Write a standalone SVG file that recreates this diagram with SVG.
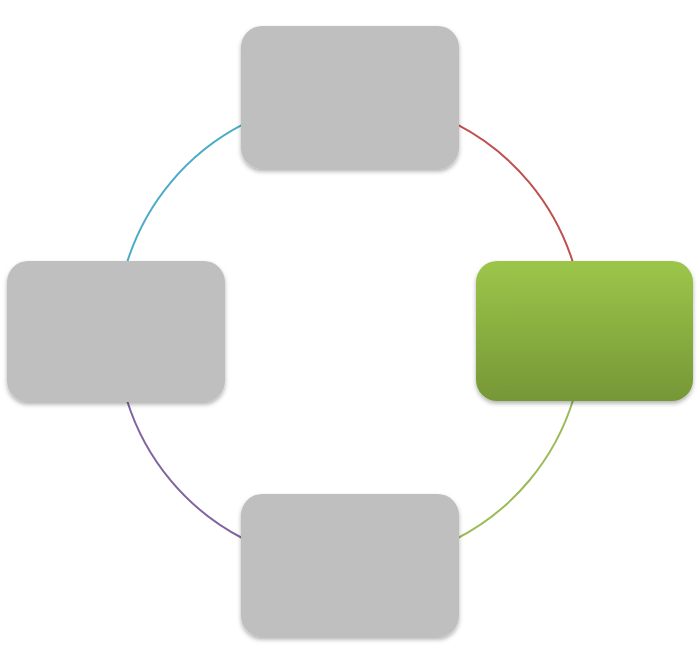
<svg xmlns="http://www.w3.org/2000/svg" width="700" height="662" viewBox="0 0 700 662">
  <style>
    .arc { fill: none; stroke-width: 2; }
    .box { fill: #BFBFBF; }
  </style>
  <defs>
    <filter id="sh" x="-10%" y="-10%" width="120%" height="125%">
      <feDropShadow dx="0" dy="2.5" stdDeviation="2" flood-color="#000" flood-opacity="0.3"/>
    </filter>
    <linearGradient id="gg" x1="0" y1="0" x2="0" y2="1">
      <stop offset="0" stop-color="#9CC64A"/>
      <stop offset="1" stop-color="#769736"/>
    </linearGradient>
  </defs>
  <rect width="700" height="662" fill="#FFFFFF"/>
  <g id="connectors">
    <path class="arc" stroke="#C0504D" d="M 457 124.4 A 234 234 0 0 1 573.1 263"/>
    <path class="arc" stroke="#9BBB59" d="M 573.4 399 A 234 234 0 0 1 457 538.5"/>
    <path class="arc" stroke="#8064A2" d="M 243 538.5 A 234 234 0 0 1 126.9 400"/>
    <path class="arc" stroke="#4BACC6" d="M 126.9 263 A 234 234 0 0 1 243 124.4"/>
  </g>
  <g id="node-top">
    <rect class="box" x="241" y="26" width="218" height="143" rx="21" filter="url(#sh)"/>
  </g>
  <g id="node-right">
    <rect x="476" y="261" width="217" height="140" rx="21" fill="url(#gg)" filter="url(#sh)"/>
  </g>
  <g id="node-bottom">
    <rect class="box" x="241" y="494" width="218" height="143" rx="21" filter="url(#sh)"/>
  </g>
  <g id="node-left">
    <rect class="box" x="7" y="261" width="218" height="141" rx="21" filter="url(#sh)"/>
  </g>
</svg>
